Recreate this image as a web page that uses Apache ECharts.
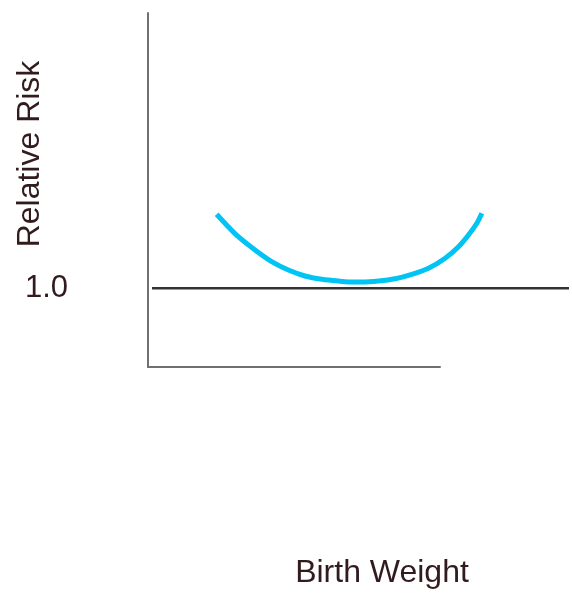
<!DOCTYPE html>
<html>
<head>
<meta charset="utf-8">
<script src="https://cdn.jsdelivr.net/npm/echarts@6/dist/echarts.min.js"></script>
<style>
  html, body { margin: 0; padding: 0; background: #fff; }
  #main { width: 572px; height: 596px; }
</style>
</head>
<body>
<div id="main"></div>
<script>
// U-shaped risk curve
var riskX = [15.5, 17.5, 20.7, 24.7, 28.7, 32.7, 36.7, 40.7, 44.7, 48.7,
             50.3, 54.3, 58.3, 62.3, 66.3, 70.3, 73.5, 75.9, 77.9, 79.1];
var riskY = [1.941, 1.827, 1.656, 1.487, 1.339, 1.233, 1.157, 1.115, 1.093, 1.080,
             1.080, 1.093, 1.122, 1.178, 1.255, 1.382, 1.529, 1.678, 1.827, 1.954];
var refLevel = 1.0;
var refX = [0, 100];
var yTickLabels = { 1: '1.0' };

var textColor = '#311b1e';
var font = "'Liberation Sans', Arial, sans-serif";

(function(){

    var chart = echarts.init(document.getElementById('main'));

    var curve = riskX.map(function(x, i){ return [x, riskY[i]]; });
    var ref = refX.map(function(x){ return [x, refLevel]; });

    var option = {
        backgroundColor: '#fff',
        animation: false,
        grid: [
            { left: 148, top: 13, width: 292, height: 354 },
            { left: 152, top: 13, width: 417, height: 354 }
        ],
        xAxis: [
            {
                gridIndex: 0, type: 'value', min: 0, max: 100,
                axisLine: { lineStyle: { color: '#707070', width: 2 } },
                axisTick: { show: false }, axisLabel: { show: false }, splitLine: { show: false }
            },
            {
                gridIndex: 1, type: 'value', min: 0, max: 100, show: false
            }
        ],
        yAxis: [
            {
                gridIndex: 0, type: 'value', min: 0, max: 4.5, interval: 1,
                axisLine: { show: true, lineStyle: { color: '#707070', width: 2 } },
                axisTick: { show: false },
                splitLine: { show: false },
                axisLabel: {
                    margin: 80,
                    fontSize: 31,
                    fontFamily: font,
                    color: textColor,
                    formatter: function(v){ return yTickLabels[v] || ''; }
                }
            },
            {
                gridIndex: 1, type: 'value', min: 0, max: 4.5, show: false
            }
        ],
        graphic: [
            {
                type: 'text', x: 30, y: 154, rotation: Math.PI / 2,
                style: { text: 'Relative Risk', fontSize: 32, fontFamily: font, fill: textColor,
                         textAlign: 'center', textVerticalAlign: 'middle' }
            },
            {
                type: 'text', x: 382, y: 573,
                style: { text: 'Birth Weight', fontSize: 32, fontFamily: font, fill: textColor,
                         textAlign: 'center', textVerticalAlign: 'middle' }
            }
        ],
        series: [
            {
                type: 'line', xAxisIndex: 1, yAxisIndex: 1,
                data: ref, symbol: 'none',
                lineStyle: { color: '#333', width: 2.5 }
            },
            {
                type: 'line', xAxisIndex: 1, yAxisIndex: 1,
                data: curve, smooth: 0.3, symbol: 'none',
                lineStyle: { color: '#00c4f4', width: 5 }
            }
        ]
    };

    chart.setOption(option);
})();
</script>
</body>
</html>
